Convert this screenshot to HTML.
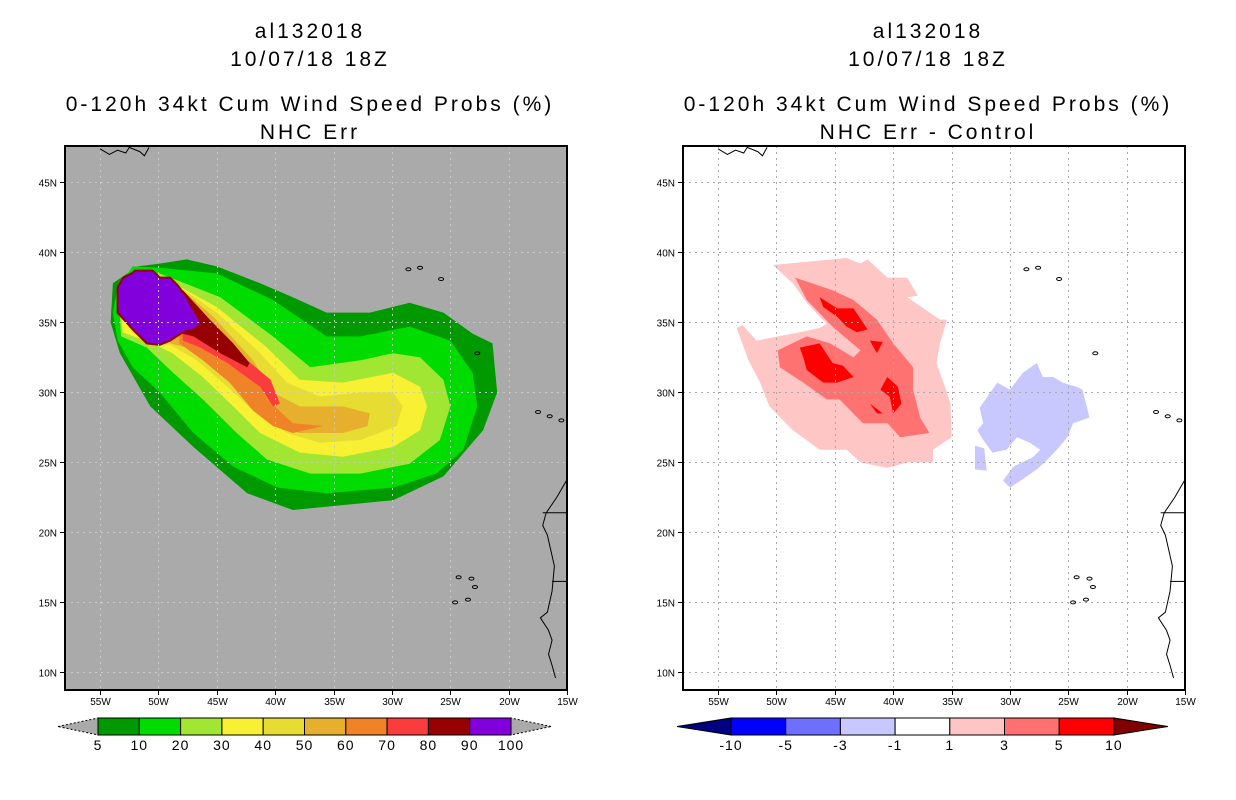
<!DOCTYPE html>
<html><head><meta charset="utf-8"><style>
body{margin:0;background:#fff;width:1236px;height:800px;overflow:hidden;font-family:"Liberation Sans",sans-serif}
svg{position:absolute;left:0;top:0}
</style></head><body>
<svg id="s" width="1236" height="800"></svg>
<script>
// ---- data ----
const lonTicks=[-55,-50,-45,-40,-35,-30,-25,-20,-15];
const latTicks=[45,40,35,30,25,20,15,10];
const probLevels=["5","10","20","30","40","50","60","70","80","90","100"];
const probColors=["#009a00","#00dc00","#a0e632","#f8f032","#e6dc32","#e6af2d","#f08228","#fa3c3c","#960000","#8200dc"];
const diffLevels=["-10","-5","-3","-1","1","3","5","10"];
const diffColors=["#0000ff","#6e6eff","#c8c8ff","#ffffff","#ffc4c4","#ff7070","#ff0000"];
const p5=[[-53.9,37.8],[-54.1,35.0],[-53.3,32.8],[-50.7,29.0],[-47.0,26.1],[-42.4,22.8],[-38.5,21.6],[-29.9,22.3],[-25.6,24.0],[-22.2,27.3],[-21.0,30.0],[-21.4,33.5],[-23.1,34.2],[-25.6,35.7],[-28.5,36.4],[-31.9,35.7],[-35.6,35.7],[-38.5,36.8],[-41.3,37.8],[-45.0,39.0],[-47.6,39.5],[-49.9,39.2],[-51.8,39.0]];
const p10=[[-49.9,38.9],[-45.0,38.5],[-40.2,36.6],[-35.6,34.0],[-32.7,34.0],[-28.5,34.7],[-25.0,33.7],[-23.1,31.4],[-22.7,29.0],[-23.9,25.9],[-26.2,24.2],[-29.9,23.2],[-35.6,22.8],[-39.8,23.2],[-43.6,24.7],[-47.0,27.1],[-49.9,30.0],[-52.2,31.8],[-53.5,33.7],[-53.9,35.7],[-53.5,37.5],[-52.2,39.0]];
const p20=[[-49.9,38.5],[-44.7,36.8],[-40.2,34.0],[-37.0,31.8],[-32.7,32.3],[-29.9,32.8],[-27.6,32.5],[-25.6,30.9],[-25.0,29.0],[-25.9,26.6],[-28.5,24.9],[-32.7,24.2],[-37.0,24.2],[-40.7,25.2],[-43.3,27.1],[-46.2,29.5],[-49.0,31.6],[-51.0,33.2],[-53.2,34.0],[-53.4,37.0]];
const p30=[[-49.6,38.2],[-45.0,36.1],[-40.7,33.2],[-37.9,30.9],[-34.2,30.7],[-29.9,31.4],[-27.6,30.4],[-27.0,29.0],[-27.6,27.3],[-29.9,26.1],[-34.2,25.4],[-37.9,25.7],[-41.3,27.1],[-43.6,29.0],[-46.2,31.1],[-48.8,32.8],[-50.5,33.5],[-53.1,34.3],[-53.2,37.0]];
const p40=[[-49.0,38.0],[-45.0,35.7],[-41.3,32.8],[-39.0,30.7],[-36.2,29.7],[-32.7,30.0],[-29.9,30.0],[-29.1,29.0],[-29.6,27.6],[-32.7,26.6],[-36.2,26.4],[-39.0,27.1],[-41.6,28.5],[-44.1,30.4],[-46.7,32.3],[-49.0,33.4],[-51.0,33.5]];
const p50=[[-48.8,37.9],[-45.3,35.4],[-41.9,32.3],[-40.2,30.0],[-37.9,29.0],[-34.2,29.0],[-31.9,28.5],[-32.1,27.6],[-34.2,27.1],[-37.9,27.1],[-40.2,27.8],[-42.4,29.5],[-45.0,31.6],[-47.6,33.2],[-49.0,33.5]];
const p60=[[-48.4,37.8],[-45.8,35.2],[-42.4,32.1],[-40.7,29.5],[-38.5,27.8],[-35.9,27.6],[-38.5,27.1],[-40.2,27.6],[-41.9,28.7],[-43.9,30.7],[-46.2,32.3],[-48.2,33.5]];
const p70=[[-48.2,37.5],[-45.8,35.0],[-42.4,32.3],[-40.4,30.9],[-39.6,29.2],[-40.2,29.0],[-41.3,30.4],[-44.1,32.1],[-46.4,33.2],[-47.9,33.7]];
const p80=[[-47.9,37.3],[-45.6,35.2],[-43.6,33.5],[-42.2,32.1],[-42.4,31.8],[-44.7,32.8],[-47.0,34.0],[-48.4,34.3]];
const p90=[[-53.5,37.5],[-53.0,38.2],[-52.3,38.5],[-52.0,38.7],[-50.5,38.7],[-49.9,38.2],[-49.0,38.2],[-48.4,37.7],[-47.6,36.8],[-47.0,35.9],[-46.3,34.9],[-47.0,34.5],[-47.9,34.3],[-49.0,33.7],[-49.9,33.4],[-51.0,33.5],[-52.2,34.5],[-53.5,35.7]];
const d1=[[-50.3,39.1],[-44.0,39.6],[-42.8,39.2],[-42.2,39.5],[-40.5,38.2],[-38.8,38.2],[-37.9,36.9],[-38.8,36.8],[-36.0,35.2],[-35.4,35.2],[-36.0,33.5],[-36.3,32.1],[-35.7,30.7],[-35.1,29.2],[-35.0,26.8],[-36.6,25.9],[-36.6,25.0],[-38.8,25.0],[-40.5,24.6],[-42.8,25.0],[-44.0,25.9],[-46.3,25.9],[-48.6,27.3],[-50.6,29.0],[-51.4,30.7],[-52.4,32.3],[-53.4,34.6],[-52.9,34.8],[-51.7,33.7],[-48.0,34.3],[-46.3,34.6],[-45.7,34.9],[-47.4,36.4],[-48.6,37.8]];
const d3=[[-48.4,38.2],[-45.2,37.3],[-43.4,36.6],[-41.4,35.2],[-40.0,33.5],[-38.3,31.8],[-38.3,30.2],[-37.7,28.2],[-36.9,27.1],[-39.4,26.8],[-40.5,27.8],[-42.6,27.8],[-44.6,29.5],[-45.7,29.5],[-47.7,30.7],[-49.7,31.8],[-49.9,33.0],[-47.4,34.0],[-45.4,33.5],[-43.4,32.5],[-42.8,33.0],[-45.2,34.7],[-47.4,36.6]];
const d5a=[[-46.3,36.8],[-44.8,36.0],[-43.4,36.0],[-42.2,34.5],[-43.1,34.3],[-44.0,34.7],[-44.8,35.4],[-46.0,36.1]];
const d5b=[[-48.0,33.2],[-46.3,33.5],[-45.2,32.1],[-44.3,31.9],[-43.4,31.1],[-44.8,30.7],[-46.0,30.7],[-47.4,31.6],[-47.7,32.5]];
const d5c=[[-40.5,31.1],[-39.6,30.4],[-39.3,29.2],[-40.0,28.5],[-40.3,29.7],[-41.1,30.2]];
const d5d=[[-42.0,33.7],[-40.9,33.6],[-41.4,32.8]];
const d5e=[[-42.0,29.2],[-40.9,28.5],[-41.4,28.5]];
const dm1=[[-32.6,28.9],[-31.1,30.7],[-30.0,30.2],[-28.9,31.4],[-27.7,32.1],[-27.2,31.1],[-26.3,31.1],[-25.5,30.7],[-24.3,30.4],[-23.8,30.2],[-23.2,28.2],[-24.6,27.8],[-25.1,26.8],[-26.0,25.9],[-26.8,25.2],[-27.7,24.5],[-29.1,23.7],[-30.0,23.2],[-30.6,23.7],[-29.7,24.7],[-28.0,25.4],[-27.4,25.9],[-28.3,26.4],[-29.4,26.8],[-30.3,25.9],[-31.5,25.7],[-32.3,26.6],[-32.8,27.3],[-32.3,27.8]];
const dm1b=[[-33.0,26.2],[-32.2,26.0],[-32.0,24.4],[-33.0,24.5]];
const coast=[[-15,23.8],[-15.9,22.5],[-16.8,21.4],[-17.1,20.5],[-16.7,19.8],[-16.4,18.7],[-16.1,17.6],[-16.3,15.8],[-16.7,14.3],[-17.3,13.9],[-16.6,13.0],[-16.3,12.3],[-16.6,11.3],[-16.3,10.5],[-16.0,9.6]];
// ---- projection ----
const L=65,R=567,T=146,B=690,lon0=-58,lat0=47.6,kx=11.68,ky=14;
const X=(lon,o)=>o+L+(lon-lon0)*kx, Y=lat=>T+(lat0-lat)*ky;
const NS="http://www.w3.org/2000/svg", svg=document.getElementById('s');
function mk(t,a,p){const e=document.createElementNS(NS,t);for(const k in a)e.setAttribute(k,a[k]);(p||svg).appendChild(e);return e;}
function poly(pts,o,fill,g){return mk('polygon',{points:pts.map(p=>X(p[0],o).toFixed(1)+','+Y(p[1]).toFixed(1)).join(' '),fill:fill},g);}
function txt(s,x,y,size,anchor,g){const e=mk('text',{x:x,y:y,'font-size':size,'text-anchor':anchor||'middle',fill:'#000','font-family':'Liberation Sans, sans-serif'},g);e.textContent=s;return e;}
function panel(o,bg,name){
  const g=mk('g',{});
  
  
  mk('rect',{x:L+o,y:T,width:R-L,height:B-T,fill:bg},g);
  return g;
}
function frame(o,g,grid){
  lonTicks.forEach(v=>{const x=Math.round(X(v,o))+0.5;
    if(v<-15)mk('line',{x1:x,y1:T,x2:x,y2:B,stroke:grid,'stroke-dasharray':'2,4'},g);
    mk('line',{x1:x,y1:B,x2:x,y2:B+5,stroke:'#000'},g);
    const t=txt(Math.abs(v)+'W',x,B+15,10,'middle',g);
    });
  latTicks.forEach(v=>{const y=Math.round(Y(v))+0.5;
    mk('line',{x1:L+o,y1:y,x2:R+o,y2:y,stroke:grid,'stroke-dasharray':'2,4'},g);
    mk('line',{x1:L+o-5,y1:y,x2:L+o,y2:y,stroke:'#000'},g);
    const t=txt(v+'N',L+o-8,y+4,10,'end',g);
    });
  mk('polyline',{points:coast.map(p=>X(p[0],o)+','+Y(p[1])).join(' '),fill:'none',stroke:'#000','stroke-width':1},g);
  mk('line',{x1:X(-17.1,o),y1:Y(21.4),x2:R+o,y2:Y(21.4),stroke:'#000'},g);
  mk('line',{x1:X(-16.3,o),y1:Y(16.5),x2:R+o,y2:Y(16.5),stroke:'#000'},g);
  [[-28.6,38.8],[-27.6,38.9],[-25.8,38.1],[-22.7,32.8],[-17.5,28.6],[-16.5,28.3],[-15.5,28.0],[-24.3,16.8],[-23.2,16.7],[-22.9,16.1],[-24.6,15.0],[-23.5,15.2]].forEach(p=>mk('ellipse',{cx:X(p[0],o),cy:Y(p[1]),rx:2.5,ry:1.5,fill:'none',stroke:'#000'},g));
  mk('polyline',{points:[[-55,47.4],[-54.2,47.0],[-53.5,47.3],[-52.8,47.1],[-52.5,47.5],[-51.6,47.2],[-51.2,46.9],[-50.8,47.5]].map(p=>X(p[0],o)+','+Y(p[1])).join(' '),fill:'none',stroke:'#000'},g);
  mk('rect',{x:L+o,y:T,width:R-L,height:B-T,fill:'none',stroke:'#000','stroke-width':2},g);
}
function titles(o,sub){
  const cx=310+o;
  [['al132018',38,'storm-id'],['10/07/18 18Z',66,'date-title'],['0-120h 34kt Cum Wind Speed Probs (%)',111,'main-title'],[sub,139,'subtitle']].forEach(a=>{
    const t=txt(a[0],cx,a[1],21,'middle');t.setAttribute('letter-spacing','3');
    });
}
// left panel
const gl=panel(0,'#aaaaaa','prob-map');
[p5,p10,p20,p30,p40,p50,p60,p70,p80].forEach((p,i)=>poly(p,0,probColors[i],gl));
const pu=poly(p90,0,probColors[9],gl);pu.setAttribute('stroke','#960000');pu.setAttribute('stroke-width','2');
frame(0,gl,'#c8c8c8');
titles(0,'NHC Err');
// right panel
const gr=panel(618,'#ffffff','diff-map');
poly(d1,618,'#ffc6c6',gr);poly(d3,618,'#ff7272',gr);
[d5a,d5b,d5c,d5d,d5e].forEach(p=>poly(p,618,'#ff0000',gr));
poly(dm1,618,'#c8c8ff',gr);poly(dm1b,618,'#c8c8ff',gr);
frame(618,gr,'#aaaaaa');
titles(618,'NHC Err - Control');
// colorbars
function cbar(x0,w,n,colors,labels,y0,h,lc,rc,tri,name){
  const g=mk('g',{});
  
  
  mk('polygon',{points:`${x0-tri},${y0+h/2} ${x0},${y0} ${x0},${y0+h}`,fill:lc,stroke:'#000','stroke-dasharray':lc=='#aaaaaa'?'2,2':'','stroke-width':1},g);
  mk('polygon',{points:`${x0+w*n+tri},${y0+h/2} ${x0+w*n},${y0} ${x0+w*n},${y0+h}`,fill:rc,stroke:'#000','stroke-dasharray':rc=='#aaaaaa'?'2,2':'','stroke-width':1},g);
  colors.forEach((c,i)=>mk('rect',{x:x0+i*w,y:y0,width:w,height:h,fill:c,stroke:'#000'},g));
  labels.forEach((l,i)=>{const t=txt(l,x0+i*w,y0+h+15,14,'middle',g);t.setAttribute('letter-spacing','1');});
}
cbar(98,41.3,10,probColors,probLevels,718,17,'#aaaaaa','#aaaaaa',40,'prob-colorbar');
cbar(731,54.7,7,diffColors,diffLevels,718,17,'#000080','#800000',54,'diff-colorbar');
</script>
</body></html>
